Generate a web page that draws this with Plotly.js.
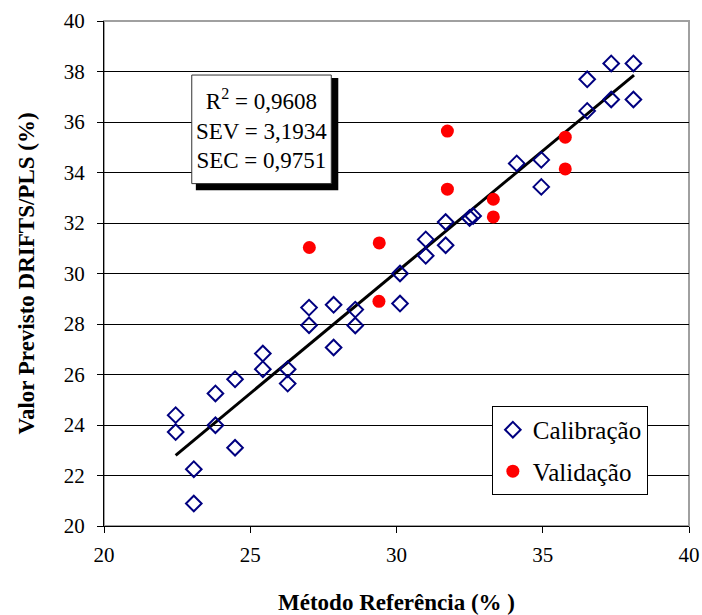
<!DOCTYPE html>
<html>
<head>
<meta charset="utf-8">
<script src="https://cdn.plot.ly/plotly-3.0.1.min.js"></script>
<style>body{margin:0;padding:0;background:#fff}#chart{width:702px;height:615px}</style>
</head>
<body>
<div id="chart"></div>
<script>
// Calibração (calibration) points
const calX = [22.45, 22.45, 23.07, 23.07, 23.81, 23.81, 24.48, 24.48, 25.43, 25.43, 26.28, 26.28,
              27.01, 27.01, 27.85, 27.85, 28.59, 28.59, 30.12, 30.12, 31.0, 31.0, 31.68, 31.68,
              32.5, 32.62, 34.11, 34.95, 34.95, 36.52, 36.52, 37.34, 37.34, 38.10, 38.10];
const calY = [24.39, 23.72, 22.25, 20.89, 25.25, 23.99, 25.81, 23.10, 26.83, 26.21, 26.21, 25.64,
              28.65, 27.95, 28.76, 27.07, 28.57, 27.94, 30.00, 28.81, 31.35, 30.70, 32.04, 31.12,
              32.20, 32.28, 34.36, 34.50, 33.43, 37.69, 36.44, 38.32, 36.89, 38.32, 36.89];
// Validação (validation) points
const valX = [27.02, 29.41, 29.40, 31.74, 31.74, 33.31, 33.31, 35.77, 35.77];
const valY = [31.03, 31.21, 28.90, 35.64, 33.34, 32.94, 32.24, 35.40, 34.14];
// Regression line end points
const lineX = [22.45, 38.12];
const lineY = [22.80, 37.86];
const xTicks = [20, 25, 30, 35, 40];
const yTicks = [20, 22, 24, 26, 28, 30, 32, 34, 36, 38, 40];
const statsText = 'R<sup>2</sup> = 0,9608<br>SEV = 3,1934<br>SEC = 0,9751';

const serif = '"Liberation Serif", serif';

const traces = [
  {x: lineX, y: lineY, mode: 'lines', line: {color: '#000', width: 3}, showlegend: false, hoverinfo: 'skip'},
  {x: calX, y: calY, mode: 'markers', name: 'Calibração', legendgroup: 'a',
   marker: {symbol: 'diamond-open', size: 12, color: '#000080', line: {width: 2, color: '#000080'}}},
  {x: valX, y: valY, mode: 'markers', name: 'Validação', legendgroup: 'b',
   marker: {symbol: 'circle', size: 13, color: '#ff0000'}}
];

const layout = {
  width: 702, height: 615,
  margin: {l: 104, r: 13, t: 21, b: 89},
  paper_bgcolor: '#fff', plot_bgcolor: '#fff',
  font: {family: serif, color: '#000'},
  xaxis: {
    range: [20, 40], tickvals: xTicks, ticktext: xTicks.map(String),
    showgrid: false, zeroline: false, showline: true, linecolor: '#000', linewidth: 1,
    ticks: 'outside', ticklen: 6, tickcolor: '#000', tickfont: {family: serif, size: 21},
    ticklabelstandoff: 4,
    title: {text: '<b>Método Referência (% )</b>', font: {family: serif, size: 23}, standoff: 32}
  },
  yaxis: {
    range: [20, 40], tickvals: yTicks, ticktext: yTicks.map(String),
    showgrid: true, gridcolor: '#000', gridwidth: 1, zeroline: false,
    showline: true, linecolor: '#000', linewidth: 1,
    ticks: 'outside', ticklen: 6, tickcolor: '#000', tickfont: {family: serif, size: 21},
    ticklabelstandoff: 8,
    title: {text: '<b>Valor Previsto DRIFTS/PLS (%)</b>', font: {family: serif, size: 23}, standoff: 22}
  },
  showlegend: true,
  legend: {
    x: 0.663, y: 0.2377, xanchor: 'left', yanchor: 'top',
    bgcolor: '#fff', bordercolor: '#000', borderwidth: 1,
    font: {family: serif, size: 25}, traceorder: 'grouped', tracegroupgap: 6
  },
  shapes: [
    {type: 'rect', xref: 'paper', yref: 'paper', x0: 0, x1: 1, y0: 0, y1: 1,
     line: {color: '#a0a0a0', width: 2}, layer: 'below'},
    {type: 'rect', xref: 'paper', yref: 'paper', x0: 0.157, x1: 0.4005, y0: 0.665, y1: 0.887,
     fillcolor: '#000', line: {width: 0}},
    {type: 'rect', xref: 'paper', yref: 'paper', x0: 0.150, x1: 0.3885, y0: 0.678, y1: 0.893,
     fillcolor: '#fff', line: {color: '#333', width: 1}}
  ],
  annotations: [
    {xref: 'paper', yref: 'paper', x: 0.269, y: 0.7855, xanchor: 'center', yanchor: 'middle',
     text: statsText, showarrow: false, align: 'center', font: {family: serif, size: 23, color: '#000'}}
  ]
};

Plotly.newPlot('chart', traces, layout, {staticPlot: true, displayModeBar: false});
</script>
</body>
</html>
